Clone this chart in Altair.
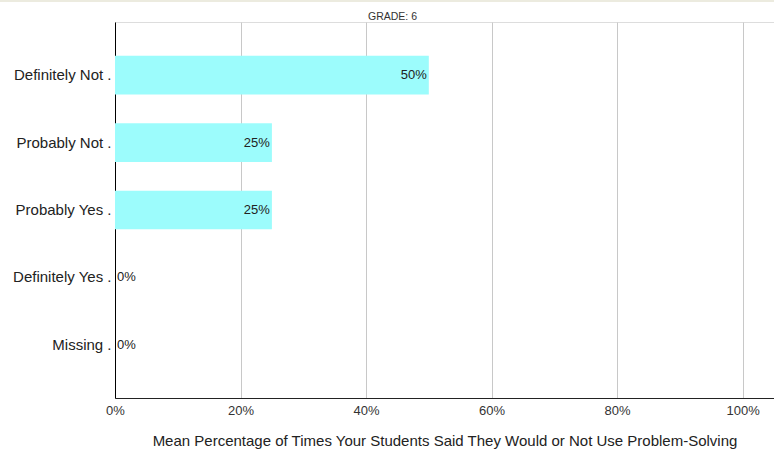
import altair as alt
import pandas as pd

categories = ["Definitely Not .", "Probably Not .", "Probably Yes .", "Definitely Yes .", "Missing ."]
values = [0.50, 0.25, 0.25, 0.0, 0.0]
x_ticks = [0, 0.2, 0.4, 0.6, 0.8, 1.0]
chart_title = "GRADE: 6"

df = pd.DataFrame({"cat": categories, "val": values})
FONT = "Arial, Liberation Sans, sans-serif"

x_enc = alt.X(
    "val:Q",
    scale=alt.Scale(domain=[0, 1.05], nice=False, zero=True),
    axis=alt.Axis(
        values=x_ticks, format=".0%", grid=True, gridColor="#c8c8c8", gridWidth=1,
        ticks=False, domainColor="#222222", domainWidth=1, labelFlush=False,
        labelFont=FONT, labelFontSize=13, labelColor="#333333", labelPadding=6,
        title="Mean Percentage of Times Your Students Said They Would or Not Use Problem-Solving",
        titleFont=FONT, titleFontSize=15, titleFontWeight="normal", titleColor="#222222",
        titlePadding=16,
    ),
)
y_enc = alt.Y(
    "cat:N", sort=categories,
    scale=alt.Scale(paddingInner=0.426, paddingOuter=0.5),
    axis=alt.Axis(
        title=None, ticks=False, grid=False, domainColor="#000000", domainWidth=1,
        labelFont=FONT, labelFontSize=15, labelColor="#222222", labelPadding=4,
    ),
)

bars = alt.Chart(df).mark_bar(color="#9cfcfc").encode(x=x_enc, y=y_enc)

pos_labels = alt.Chart(df).transform_filter("datum.val > 0").mark_text(
    align="right", baseline="middle", dx=-2, font=FONT, fontSize=13, color="#222222"
).encode(x="val:Q", y=alt.Y("cat:N", sort=categories), text=alt.Text("val:Q", format=".0%"))

zero_labels = alt.Chart(df).transform_filter("datum.val <= 0").mark_text(
    align="left", baseline="middle", dx=2, font=FONT, fontSize=13, color="#222222"
).encode(x="val:Q", y=alt.Y("cat:N", sort=categories), text=alt.Text("val:Q", format=".0%"))

border = alt.Chart(pd.DataFrame({"a": [0]})).mark_rule(
    color="#ecebdf", strokeWidth=2, clip=False
).encode(x=alt.value(-115), x2=alt.value(659), y=alt.value(-21))

title_mark = alt.Chart(pd.DataFrame({"t": [chart_title]})).mark_text(
    align="left", baseline="middle", font=FONT, fontSize=10.5, color="#333333", clip=False
).encode(x=alt.value(253), y=alt.value(-5), text="t:N")

chart = alt.layer(bars, pos_labels, zero_labels, border, title_mark).properties(
    width=659, height=376,
    autosize=alt.AutoSizeParams(type="none"),
    padding={"left": 115, "top": 22, "right": 0, "bottom": 56},
).configure_view(stroke=None).configure(background="white")

chart.save("out.html", embed_options={"renderer": "svg", "actions": False})
